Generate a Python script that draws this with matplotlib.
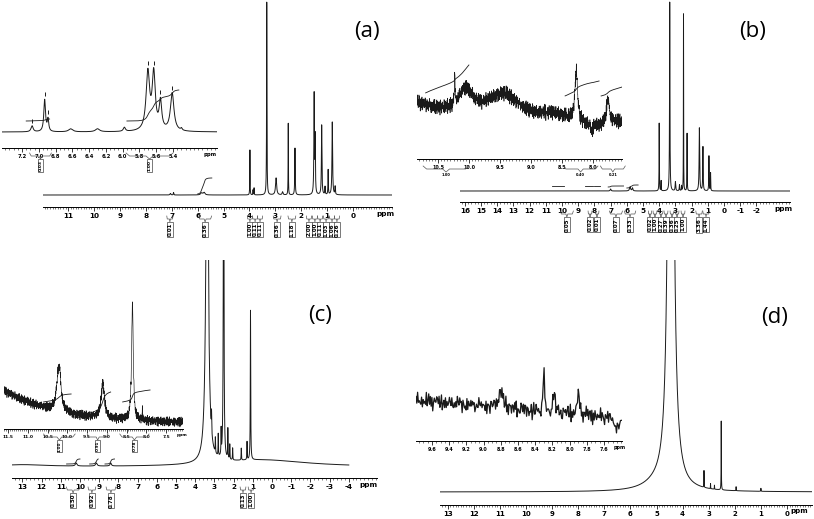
import numpy as np
import matplotlib.pyplot as plt
from matplotlib.ticker import MultipleLocator

plt.rcParams['axes.unicode_minus'] = False

# ---- data: (ppm, height in px, half width in ppm) ----

a_peaks = [(7.05, 1.5, 0.02), (6.93, 2.5, 0.01), (5.85, 2.0, 0.04), (5.75, 2.5, 0.04),
           (3.98, 45, 0.006), (3.86, 5, 0.006), (3.82, 7, 0.006), (3.33, 193, 0.008),
           (2.97, 17, 0.025), (2.72, 3, 0.02), (2.50, 72, 0.006), (2.24, 47, 0.01),
           (1.50, 100, 0.012), (1.46, 55, 0.01), (1.21, 70, 0.012), (1.08, 8, 0.01),
           (0.96, 25, 0.008), (0.80, 73, 0.014), (0.69, 8, 0.01)]
a_integrals = [(6.0, 5.45, 1, 17)]
a_labels = [(7.07, "0.01", 0.12), (5.71, "0.36", 0.25), (3.98, "1.00", 0.1), (3.78, "0.11", 0.1),
            (3.59, "0.11", 0.1), (2.93, "0.36", 0.15), (2.36, "1.18", 0.15), (1.70, "2.00", 0.1),
            (1.47, "1.00", 0.1), (1.27, "0.11", 0.1), (1.04, "1.03", 0.1), (0.81, "1.06", 0.1),
            (0.62, "0.26", 0.1)]
a_ticks = list(range(11, -1, -1))

a_in_peaks = [(7.08, 6, 0.015), (6.93, 32, 0.012), (6.89, 12, 0.01), (6.62, 3, 0.03),
              (6.30, 3, 0.03), (5.98, 4, 0.015), (5.70, 58, 0.025), (5.63, 56, 0.022),
              (5.55, 28, 0.018), (5.41, 38, 0.025), (5.30, 2, 0.01)]
a_in_picks = [6.93, 6.89, 7.08, 5.70, 5.63, 5.55, 5.41]
a_in_integrals = [(7.15, 6.87, 11, 13), (5.95, 5.33, 11, 42)]
a_in_labels = [(6.98, "0.03", 0.13), (5.68, "1.00", 0.28)]
a_in_ticks = [7.2, 7.0, 6.8, 6.6, 6.4, 6.2, 6.0, 5.8, 5.6, 5.4]

b_peaks = [(7.0, 2, 0.03), (5.8, 4, 0.04), (5.65, 3, 0.03), (4.0, 68, 0.01), (3.88, 10, 0.008),
           (3.35, 189, 0.014), (3.0, 9, 0.02), (2.75, 6, 0.015), (2.62, 5, 0.01),
           (2.50, 177, 0.007), (2.28, 58, 0.009), (1.52, 63, 0.02), (1.30, 44, 0.015),
           (0.93, 35, 0.012), (0.83, 18, 0.01)]
b_integrals = [(10.6, 9.9, 5, 5), (8.6, 8.1, 5, 5), (8.0, 7.65, 5, 5), (7.15, 6.2, 4, 5),
               (6.0, 5.3, 3, 6)]
b_labels = [(9.7, "0.05", 0.4), (8.27, "0.02", 0.12), (7.84, "0.01", 0.12), (6.67, "0.07", 0.4),
            (5.8, "0.33", 0.35), (4.57, "0.02", 0.1), (4.26, "1.00", 0.12), (3.89, "0.27", 0.12),
            (3.58, "0.39", 0.12), (3.21, "0.36", 0.12), (2.9, "0.25", 0.12), (2.53, "1.00", 0.12),
            (1.54, "3.36", 0.2), (1.11, "1.44", 0.2)]
b_ticks = list(range(16, -3, -1))

b_in_humps = [(11.5, 45, 1.2), (10.05, 25, 0.15), (9.45, 30, 0.35), (8.6, 15, 0.5), (7.6, 10, 0.2)]
b_in_peaks = [(10.23, 30, 0.006), (8.27, 50, 0.025), (7.76, 25, 0.03), (8.02, -10, 0.012)]
b_in_integrals = [(10.70, 10.0, 47, 75), (8.45, 7.9, 44, 59), (7.87, 7.53, 44, 53)]
b_in_labels = [(10.37, "1.00", 0.37), (8.2, "0.40", 0.28), (7.68, "0.21", 0.2)]
b_in_ticks = [10.5, 10.0, 9.5, 9.0, 8.5, 8.0]

c_peaks = [(13.0, 2, 1.5), (10.2, 3, 0.05), (9.15, 3, 0.05), (8.4, 3, 0.04),
           (0.5, 7, 2.8), (3.38, 400, 0.07), (3.15, 20, 0.01), (2.95, 15, 0.01),
           (2.80, 22, 0.01), (2.65, 25, 0.01), (2.52, 400, 0.018), (2.30, 30, 0.01),
           (2.20, 15, 0.01), (2.05, 12, 0.01), (1.60, 12, 0.01), (1.30, 18, 0.01),
           (1.12, 150, 0.012)]
c_integrals = [(10.7, 10.0, 3, 8), (9.5, 9.05, 3, 8), (8.7, 8.2, 3, 8)]
c_labels = [(10.36, "0.50", 0.35), (9.38, "0.92", 0.2), (8.39, "0.78", 0.25),
            (1.51, "0.13", 0.15), (1.09, "1.00", 0.15)]
c_ticks = list(range(13, -5, -1))

c_in_humps = [(12.2, 40, 1.4)]
c_in_peaks = [(10.22, 40, 0.06), (10.18, 12, 0.03), (9.1, 35, 0.05), (8.35, 118, 0.025),
              (8.1, 12, 0.004)]
c_in_integrals = [(10.6, 9.9, 23, 31), (9.4, 8.9, 12, 33), (8.6, 7.9, 23, 35)]
c_in_labels = [(10.2, "1.00", 0.4), (9.23, "0.91", 0.26), (8.3, "0.78", 0.37)]
c_in_ticks = [11.5, 11.0, 10.5, 10.0, 9.5, 9.0, 8.5, 8.0, 7.5]

d_peaks = [(5.0, 6, 0.6), (4.45, 1200, 0.075), (3.18, 17, 0.004), (2.93, 5, 0.004),
           (2.78, 4, 0.004), (2.52, 69, 0.005), (1.95, 4, 0.005), (1.0, 3, 0.006)]
d_ticks = list(range(13, -1, -1))

d_in_humps = [(10.5, 32, 2.5), (7.45, -10, 0.04)]
d_in_peaks = [(8.30, 45, 0.008), (8.18, 24, 0.012), (7.90, 22, 0.015), (8.80, 14, 0.04)]
d_in_ticks = [9.6, 9.4, 9.2, 9.0, 8.8, 8.6, 8.4, 8.2, 8.0, 7.8, 7.6]

# fixed jitter pattern for the noisy insets
jitter = [0.2, -0.7, 0.9, -0.3, 0.5, -1.0, 0.1, 0.8, -0.5, 0.3, -0.9, 0.6, -0.2, 1.0, -0.6,
          0.0, 0.7, -0.8, 0.4, -0.4, 0.9, -1.0, 0.2, 0.6, -0.3, -0.7, 0.8, 0.1, -0.5, 0.5,
          -0.9, 0.3, 0.7, -0.6, -0.1, 1.0, -0.8, 0.4, -0.2, 0.6, -1.0, 0.2, 0.9, -0.4, -0.7,
          0.5, 0.0, -0.6, 0.8, -0.3, 0.3, -0.9, 0.7]

W, H = 814, 519
LC = "#1a1a1a"
fig = plt.figure(figsize=(W / 100, H / 100), dpi=100)


def px_axes(x0, y0, x1, y1, zero_px, scale, ylim):
    # axes placed in pixel coords; x in ppm, y in px above baseline
    ax = fig.add_axes([x0 / W, 1 - y1 / H, (x1 - x0) / W, (y1 - y0) / H])
    ax.patch.set_alpha(0)
    for s in ["top", "left", "right"]:
        ax.spines[s].set_visible(False)
    ax.spines["bottom"].set_linewidth(0.7)
    ax.set_yticks([])
    ax.set_xlim((zero_px - x0) / scale, (zero_px - x1) / scale)
    ax.set_ylim(*ylim)
    return ax


def spectrum(x, peaks):
    y = np.zeros_like(x)
    for c, h, w in peaks:
        y += h / (1 + ((x - c) / w) ** 2)
    return y


def noise(n, amp):
    # two fixed patterns with different lengths so the texture does not repeat visibly
    return amp * (0.7 * np.resize(jitter, n) + 0.5 * np.resize(jitter[::-2], n))


def ticks(ax, values, fmt, minor, fs, ppm_x=None, ppm_dy=4, pad=1.5):
    ax.set_xticks(values, labels=[fmt % v for v in values], fontweight="bold", fontsize=fs)
    ax.xaxis.set_minor_locator(MultipleLocator(minor))
    ax.tick_params(axis="x", which="major", length=3, width=0.6, pad=pad, color=LC)
    ax.tick_params(axis="x", which="minor", length=1.6, width=0.4, color=LC)
    if ppm_x is not None:
        ax.text(ppm_x, ax.get_ylim()[0] - ppm_dy, "ppm", fontsize=fs, fontweight="bold",
                ha="center", va="top")


def integrals(ax, x, y, regions, lw=0.6):
    for p1, p2, h1, h2 in regions:
        m = (x <= p1) & (x >= p2)
        c = np.cumsum(y[m] - y[m].min() + 1e-3)
        c = c / c[-1]
        ax.plot(x[m], h1 + (h2 - h1) * c, color=LC, lw=lw)


def brackets(ax, items, top, mid, bot, fs, box=True, rot=90):
    for c, txt, hw in items:
        bx = [c - hw, c - 0.85 * hw, c - 0.15 * hw, c, c + 0.15 * hw, c + 0.85 * hw, c + hw]
        by = [top, mid, mid, bot, mid, mid, top]
        ax.plot(bx, by, color="#555555", lw=0.5, clip_on=False)
        bb = dict(boxstyle="square,pad=0.15", fc="white", ec="#444444", lw=0.5) if box else None
        ax.text(c, bot - 1, txt, rotation=rot, fontsize=fs, fontweight="bold",
                ha="center", va="top", bbox=bb)


# ---------------- (a) ----------------
ax = px_axes(43, 0, 392, 207, 353, 25.9, (-12, 195))
x = np.linspace(11.97, -1.5, 9000)
y = spectrum(x, a_peaks)
ax.plot(x, y, color=LC, lw=0.7)
integrals(ax, x, y, a_integrals)
ticks(ax, a_ticks, "%d", 0.1, 5.2, -1.24)
brackets(ax, a_labels, -21, -24, -27, 4)

ax = px_axes(2, 40, 217, 148, 7.2 * 83.9 + 22, 83.9, (-16, 92))
x = np.linspace(7.44, 4.88, 3000)
y = spectrum(x, a_in_peaks)
ax.plot(x, y, color=LC, lw=0.7)
integrals(ax, x, y, a_in_integrals)
pk = np.array(a_in_picks)
ax.plot(pk, spectrum(pk, a_in_peaks) + 5, "|", color=LC, ms=3, mew=0.7)
ticks(ax, a_in_ticks, "%.1f", 0.05, 3.8, 4.96)
brackets(ax, a_in_labels, -21, -24, -27, 3.2)

# ---------------- (b) ----------------
ax = px_axes(460, 0, 790, 202, 724, 16.2, (-11, 191))
x = np.linspace(16.3, -4.07, 12000)
y = spectrum(x, b_peaks)
ax.plot(x, y, color=LC, lw=0.7)
integrals(ax, x, y, b_integrals)
ticks(ax, b_ticks, "%d", 0.2, 5.2, -3.64)
brackets(ax, b_labels, -20, -23, -26, 4)

ax = px_axes(417, 50, 622, 159, 10.5 * 62 + 438, 62, (-19, 90))
x = np.linspace(10.84, 7.53, 1300)
y = spectrum(x, b_in_humps) + spectrum(x, b_in_peaks) + noise(x.size, 7)
ax.plot(x, y, color=LC, lw=0.45)
integrals(ax, x, y, b_in_integrals)
ticks(ax, b_in_ticks, "%.1f", 0.05, 3.5)
brackets(ax, b_in_labels, -26, -29, -32, 2.6, box=False, rot=0)

# ---------------- (c) ----------------
ax = px_axes(12, 260, 377, 478, 272, 19.2, (-11, 207))
x = np.linspace(13.54, -5.47, 12000)
y = spectrum(x, c_peaks)
m = x >= -4.0
ax.plot(x[m], y[m], color=LC, lw=0.7)
integrals(ax, x, y, c_integrals)
ticks(ax, c_ticks, "%d", 0.2, 5.2, -5.0)
brackets(ax, c_labels, -20, -23, -26, 4)

ax = px_axes(4, 295, 183, 429, 11.5 * 39.5 + 8, 39.5, (-4, 130))
x = np.linspace(11.6, 7.07, 1300)
y = spectrum(x, c_in_humps) + spectrum(x, c_in_peaks) + noise(x.size, 4.5)
ax.plot(x, y, color=LC, lw=0.45)
integrals(ax, x, y, c_in_integrals)
ticks(ax, c_in_ticks, "%.1f", 0.05, 3.2, 7.1)
brackets(ax, c_in_labels, -9, -12, -15, 3)

# ---------------- (d) ----------------
ax = px_axes(440, 260, 812, 505, 787, 26.1, (-13, 232))
x = np.linspace(13.3, -0.96, 12000)
y = spectrum(x, d_peaks)
ax.plot(x, y, color=LC, lw=0.7)
ticks(ax, d_ticks, "%d", 0.1, 5.0, -0.45, 3.2, pad=1.0)

ax = px_axes(416, 355, 622, 441, 9.6 * 86 + 432, 86, (-11, 75))
x = np.linspace(9.786, 7.39, 260)
y = spectrum(x, d_in_humps) + spectrum(x, d_in_peaks) + noise(x.size, 8)
ax.plot(x, y, color=LC, lw=0.9)
ticks(ax, d_in_ticks, "%.1f", 0.05, 3.5, 7.42)

# panel letters
for lab, px, py in [("(a)", 367, 31), ("(b)", 753, 32), ("(c)", 320, 315), ("(d)", 775, 318)]:
    fig.text(px / W, 1 - py / H, lab, fontsize=16, family="Open Sans", ha="center", va="center")

fig.savefig("out.png", dpi=100, facecolor="white")
